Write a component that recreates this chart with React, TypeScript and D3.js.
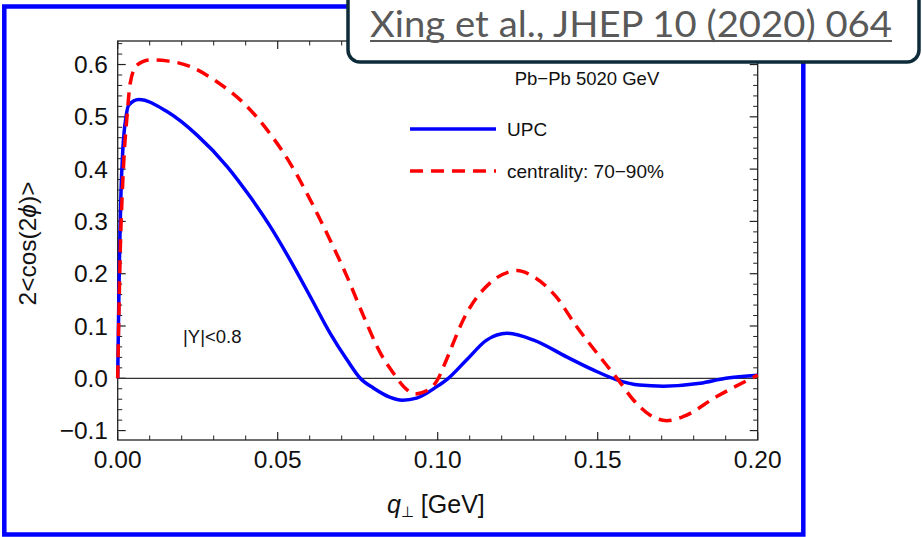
import React from "react";
import * as d3 from "d3";

const qUPC = [0, 0.0003, 0.0006, 0.001, 0.0016, 0.0026, 0.0034, 0.0066, 0.0154, 0.0248, 0.0342, 0.0414, 0.0477, 0.0539, 0.0602, 0.0664, 0.0717, 0.0758, 0.08, 0.085, 0.089, 0.0934, 0.0997, 0.1033, 0.109, 0.1153, 0.1216, 0.13, 0.1403, 0.1486, 0.156, 0.163, 0.1705, 0.182, 0.19, 0.2];
const vUPC = [0, 0.13, 0.245, 0.35, 0.437, 0.5, 0.522, 0.533, 0.51, 0.465, 0.405, 0.347, 0.29, 0.226, 0.156, 0.086, 0.035, 0, -0.019, -0.036, -0.042, -0.038, -0.016, 0, 0.035, 0.073, 0.086, 0.073, 0.041, 0.016, -0.003, -0.013, -0.015, -0.0096, 0, 0.006];

const qCent = [0, 0.0004, 0.0008, 0.0014, 0.0021, 0.0029, 0.0039, 0.006, 0.0102, 0.0154, 0.0227, 0.031, 0.0394, 0.0467, 0.0539, 0.0602, 0.0664, 0.0717, 0.0769, 0.0821, 0.0862, 0.0894, 0.093, 0.0965, 0.1002, 0.1018, 0.109, 0.1163, 0.1226, 0.1247, 0.13, 0.137, 0.1434, 0.1507, 0.1564, 0.1611, 0.1663, 0.1716, 0.1768, 0.1872, 0.2];
const vCent = [0, 0.13, 0.245, 0.35, 0.437, 0.5, 0.564, 0.599, 0.609, 0.607, 0.596, 0.567, 0.526, 0.475, 0.411, 0.341, 0.264, 0.194, 0.118, 0.048, 0.0096, -0.016, -0.03, -0.024, 0, 0.022, 0.124, 0.182, 0.204, 0.206, 0.194, 0.156, 0.099, 0.041, -0.003, -0.041, -0.07, -0.081, -0.073, -0.035, 0.006];

const xMajor = [0, 0.05, 0.1, 0.15, 0.2];
const yMajor = [-0.1, 0, 0.1, 0.2, 0.3, 0.4, 0.5, 0.6];
const xMinorStep = 0.01;
const yMinorStep = 0.02;

const legendLabels = ["UPC", "centrality: 70\u221290%"];
const annotation = "Pb\u2212Pb 5020 GeV";
const rapidity = "|Y|<0.8";
const citation = "Xing et al., JHEP 10 (2020) 064";

export default function App() {
  const W = 922, H = 537;
  const x = d3.scaleLinear().domain([0, 0.2]).range([117.7, 757.7]);
  const y = d3.scaleLinear().domain([-0.118, 0.645]).range([440, 41]);

  const line = d3.line<[number, number]>()
    .x(d => x(d[0]))
    .y(d => y(d[1]))
    .curve(d3.curveMonotoneX);

  const upcPath = line(qUPC.map((q, i) => [q, vUPC[i]]));
  const centPath = line(qCent.map((q, i) => [q, vCent[i]]));

  const [x0, x1] = x.range();
  const [yb, yt] = y.range();

  const xMinor = d3.range(0, 0.2 + 1e-9, xMinorStep).filter(v => !xMajor.some(m => Math.abs(m - v) < 1e-9));
  const yMinor = d3.range(-0.12, 0.645, yMinorStep).filter(v => v >= -0.118 && !yMajor.some(m => Math.abs(m - v) < 1e-9));

  const fmtY = (v: number) => (v < 0 ? "\u2212" : "") + Math.abs(v).toFixed(1);
  const fmtX = (v: number) => v.toFixed(2);

  const maj = 8, mnr = 4.5;
  const tickColor = "#222";
  const font = "'Liberation Sans', Arial, sans-serif";

  return (
    <svg width={W} height={H} style={{ position: "absolute", left: 0, top: 0, background: "#fff" }} fontFamily={font}>
      <rect x={0} y={0} width={W} height={H} fill="#fff" />
      {/* outer blue frame */}
      <rect x={4.3} y={6.5} width={799} height={528} fill="none" stroke="#0000ff" strokeWidth={4.5} />

      {/* plot frame */}
      <rect x={x0} y={yt} width={x1 - x0} height={yb - yt} fill="none" stroke={tickColor} strokeWidth={1.3} />

      {/* x ticks bottom & top */}
      {xMajor.map(v => (
        <g key={"xm" + v}>
          <line x1={x(v)} x2={x(v)} y1={yb} y2={yb - maj} stroke={tickColor} strokeWidth={1.2} />
          <line x1={x(v)} x2={x(v)} y1={yt} y2={yt + maj} stroke={tickColor} strokeWidth={1.2} />
          <text x={x(v)} y={468} textAnchor="middle" fontSize={24.5} fill="#111">{fmtX(v)}</text>
        </g>
      ))}
      {xMinor.map(v => (
        <g key={"xn" + v}>
          <line x1={x(v)} x2={x(v)} y1={yb} y2={yb - mnr} stroke={tickColor} strokeWidth={1} />
          <line x1={x(v)} x2={x(v)} y1={yt} y2={yt + mnr} stroke={tickColor} strokeWidth={1} />
        </g>
      ))}
      {/* y ticks left & right */}
      {yMajor.map(v => (
        <g key={"ym" + v}>
          <line x1={x0} x2={x0 + maj} y1={y(v)} y2={y(v)} stroke={tickColor} strokeWidth={1.2} />
          <line x1={x1} x2={x1 - maj} y1={y(v)} y2={y(v)} stroke={tickColor} strokeWidth={1.2} />
          <text x={108} y={y(v)} dy="0.35em" textAnchor="end" fontSize={24.5} fill="#111">{fmtY(v)}</text>
        </g>
      ))}
      {yMinor.map(v => (
        <g key={"yn" + v}>
          <line x1={x0} x2={x0 + mnr} y1={y(v)} y2={y(v)} stroke={tickColor} strokeWidth={1} />
          <line x1={x1} x2={x1 - mnr} y1={y(v)} y2={y(v)} stroke={tickColor} strokeWidth={1} />
        </g>
      ))}

      {/* zero line */}
      <line x1={x0} x2={x1} y1={y(0)} y2={y(0)} stroke="#333" strokeWidth={1.3} />

      {/* curves */}
      <path d={upcPath || ""} fill="none" stroke="#0000ff" strokeWidth={3.5} strokeLinejoin="round" />
      <path d={centPath || ""} fill="none" stroke="#ff0000" strokeWidth={3.5} strokeDasharray="13,8" />

      {/* annotations */}
      <text x={587} y={85} textAnchor="middle" fontSize={18.5} fill="#111">{annotation}</text>
      <text x={183} y={342.7} fontSize={18.5} fill="#111">{rapidity}</text>

      {/* legend */}
      <line x1={410} x2={496} y1={129} y2={129} stroke="#0000ff" strokeWidth={3.5} />
      <text x={507} y={129} dy="0.35em" fontSize={19} fill="#111">{legendLabels[0]}</text>
      <line x1={410} x2={496} y1={171} y2={171} stroke="#ff0000" strokeWidth={3.5} strokeDasharray="13,8" />
      <text x={507} y={171} dy="0.35em" fontSize={19} fill="#111">{legendLabels[1]}</text>

      {/* axis labels */}
      <text transform={`translate(36,${(yt + yb) / 2 + 3}) rotate(-90)`} textAnchor="middle" fontSize={24.5} fill="#111">
        2&lt;cos(2<tspan fontStyle="italic">ϕ</tspan>)&gt;
      </text>
      <text x={387} y={513} fontSize={25} fill="#111">
        <tspan fontStyle="italic">q</tspan>
        <tspan fontSize={15} dy={4}>⊥</tspan>
        <tspan dy={-4}> [GeV]</tspan>
      </text>

      {/* citation box */}
      <rect x={348} y={-20} width={571} height={82} rx={12} ry={12} fill="#fff" stroke="#0e2b39" strokeWidth={3.5} />
      <text x={370} y={36.7} fontFamily="Lato, 'Open Sans', sans-serif" fontSize={36} fill="#595959"
        textLength={522} lengthAdjust="spacingAndGlyphs">{citation}</text>
      <line x1={370} x2={892} y1={41} y2={41} stroke="#595959" strokeWidth={2} />
    </svg>
  );
}
